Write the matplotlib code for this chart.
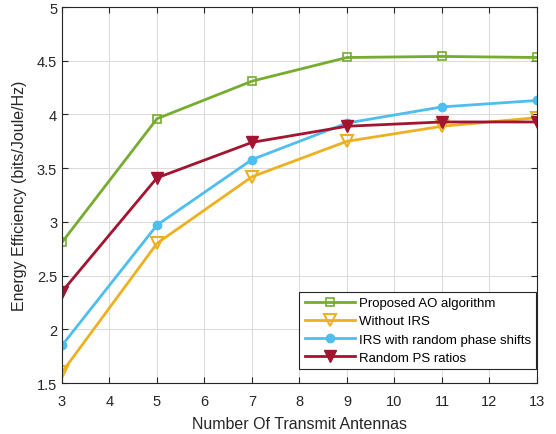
import matplotlib
matplotlib.use('Agg')
import matplotlib.pyplot as plt

plt.rcParams['font.family'] = ['Liberation Sans', 'DejaVu Sans']

# data
antennas = [3, 5, 7, 9, 11, 13]
proposed = [2.81, 3.96, 4.31, 4.53, 4.54, 4.53]
without_irs = [1.60, 2.80, 3.42, 3.75, 3.89, 3.97]
random_phase = [1.85, 2.97, 3.58, 3.92, 4.07, 4.13]
random_ps = [2.35, 3.41, 3.74, 3.89, 3.93, 3.93]

fig = plt.figure(figsize=(5.56, 4.35), dpi=100)
ax = fig.add_axes([0.1115, 0.1172, 0.8543, 0.8644])

ax.plot(antennas, proposed, color='#77AC30', lw=2, marker='s', ms=5.5,
        mfc='none', mew=1.2, label='Proposed AO algorithm')
ax.plot(antennas, without_irs, color='#EDB120', lw=2, marker='v', ms=8,
        mfc='none', mew=1.5, label='Without IRS')
ax.plot(antennas, random_phase, color='#4DBEEE', lw=2, marker='o', ms=6,
        label='IRS with random phase shifts')
ax.plot(antennas, random_ps, color='#A2142F', lw=2, marker='v', ms=8.5,
        label='Random PS ratios')

ax.set_xlim(3, 13)
ax.set_ylim(1.5, 5)
ax.set_xticks(range(3, 14))
ax.set_yticks([1.5, 2, 2.5, 3, 3.5, 4, 4.5, 5])
ax.set_yticklabels(['1.5', '2', '2.5', '3', '3.5', '4', '4.5', '5'])
ax.grid(True, color='#dcdcdc', lw=0.8)
ax.set_axisbelow(True)
ax.tick_params(direction='in', top=True, right=True, labelsize=10.5,
               colors='#262626', length=4)
ax.tick_params(axis='x', pad=8)
for s in ax.spines.values():
    s.set_color('#262626')
    s.set_linewidth(0.8)

ax.set_xlabel('Number Of Transmit Antennas', fontsize=11.5, color='#262626',
              labelpad=6)
ax.set_ylabel('Energy Efficiency (bits/Joule/Hz)', fontsize=11.5, color='#262626',
              labelpad=7)

leg = ax.legend(loc='lower right', bbox_to_anchor=(0.998, 0.037), fontsize=9.5,
                fancybox=False, framealpha=1, edgecolor='#262626',
                handlelength=3.8, borderpad=0.4, labelspacing=0.45,
                handletextpad=0.3, borderaxespad=0.0)
leg.get_frame().set_linewidth(0.8)

fig.savefig('out.png', dpi=100)
